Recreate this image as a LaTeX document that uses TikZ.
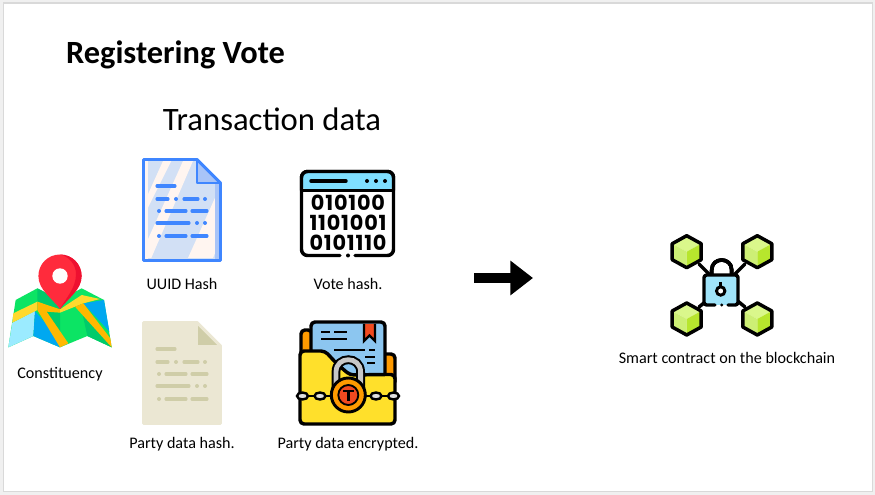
\documentclass[tikz,border=0pt]{standalone}
\usepackage{fontspec}
\usepackage{xcolor}
\usetikzlibrary{arrows.meta, positioning}
\setmainfont{Carlito}
\newfontfamily\bitsfont{Poppins}[LetterSpace=4]

\definecolor{slideedge}{HTML}{D9D9D9}
\definecolor{docblue}{HTML}{3F86FF}
\definecolor{docpale}{HTML}{D2E0F5}
\definecolor{docstreak}{HTML}{FFF5F0}
\definecolor{docfold}{HTML}{A8C4F8}
\definecolor{beigefill}{HTML}{EBE7D3}
\definecolor{beigefold}{HTML}{CFCDA8}
\definecolor{headerblue}{HTML}{7FDFFF}
\definecolor{paperblue}{HTML}{8CC6F0}
\definecolor{folderyellow}{HTML}{FFE02B}
\definecolor{tabchrome}{HTML}{FF9A00}
\definecolor{ribbonred}{HTML}{F04A20}
\definecolor{lockteal}{HTML}{A0E4FA}
\definecolor{cubetop}{HTML}{DAF78B}
\definecolor{cubeleft}{HTML}{CDEF75}
\definecolor{cuberight}{HTML}{B7E62D}
\definecolor{mapgreen}{HTML}{0CE464}
\definecolor{mapdark}{HTML}{00CB6A}
\definecolor{mapblue}{HTML}{00A8F0}
\definecolor{mapsky}{HTML}{9BEBFF}
\definecolor{mapgold}{HTML}{FFD92E}
\definecolor{maporange}{HTML}{FFB800}
\definecolor{pinred}{HTML}{FF2B3C}
\definecolor{pindark}{HTML}{EE1030}

\tikzset{
  caption/.style={inner sep=0pt, font=\fontsize{12.1pt}{14pt}\selectfont},
  heavy/.style={line width=2.6pt, draw=black, line join=round, line cap=round},
  bitrow/.style={inner sep=0pt, text height=11.4pt, text depth=0pt, font=\bitsfont\bfseries\fontsize{15.6pt}{16pt}\selectfont},
}

% document sheet: y shift, stroke, fill, streak, fold, text lines, right strip
\newcommand{\docicon}[7]{
  \begin{scope}[shift={(0,#1)}]
    \fill[#3] (143.5,159.5) -- (197,159.5) -- (220.5,183) -- (220.5,260.5) -- (143.5,260.5) -- cycle;
    \fill[#4] (144,160) rectangle (148,260);
    \fill[#4] (163,161) -- (171.3,161) -- (147.3,209) -- (147.3,195.7) -- cycle;
    \fill[#4] (183,161) -- (193,161) -- (151.3,258) -- (147.3,258) -- (147.3,240.7) -- cycle;
    \fill[#4] (188,258) -- (213,258) -- (219.7,242.3) -- (219.7,187.3) -- cycle;
    \fill[#7] (214.5,183) -- (220.5,183) -- (220.5,260.5) -- (214.5,260.5) -- cycle;
    \fill[#5] (197,159.5) -- (220.5,183) -- (197,183) -- cycle;
    \draw[#2, line width=2.2pt, line join=round] (143.5,159.5) -- (197,159.5) -- (220.5,183) -- (220.5,260.5) -- (143.5,260.5) -- cycle;
    \draw[#2, line width=2.2pt, line join=round] (197,159.5) -- (197,183) -- (220.5,183);
    \foreach \xa/\xb/\ya in {157/175/186, 157/168/199, 184/198/199, 166/186/211, 192/207/211, 157/189/223, 166/186/236, 192/207/236}
      \draw[#6, line width=2.3pt, line cap=round] (\xa,\ya) -- (\xb,\ya);
    \foreach \xa/\ya in {176/199, 205/199, 159/211, 197/223, 205/223, 159/236}
      \fill[#6] (\xa,\ya) circle[radius=2];
  \end{scope}
}

% one block of the network
\newcommand{\cubeicon}[2]{
  \begin{scope}[shift={(#1,#2)}]
    \fill[cubetop] (0,-16) -- (14.5,-8) -- (0,0) -- (-14.5,-8) -- cycle;
    \fill[cubeleft] (-14.5,-8) -- (0,0) -- (0,16) -- (-14.5,8) -- cycle;
    \fill[cuberight] (14.5,-8) -- (0,0) -- (0,16) -- (14.5,8) -- cycle;
    \draw[heavy] (0,-16) -- (14.5,-8) -- (14.5,8) -- (0,16) -- (-14.5,8) -- (-14.5,-8) -- cycle;
  \end{scope}
}

\begin{document}
\begin{tikzpicture}[x=0.75pt, y=-0.75pt]
  \useasboundingbox (0,0) rectangle (875,495);
  \fill[black!6] (0,0) rectangle (875,495);
  \draw[slideedge, fill=white, line width=0.8pt] (3.5,3) rectangle (872.5,491.5);

  % Headings
  \node[inner sep=0pt, font=\bfseries\fontsize{24.3pt}{26pt}\selectfont] (title) at (175.5,55) {Registering Vote};
  \node[inner sep=0pt, font=\fontsize{24.5pt}{26pt}\selectfont] (txdata) at (272,119) {Transaction data};

  % Hash sheets
  \docicon{0}{docblue}{docpale}{docstreak}{docfold}{docblue}{docfold}
  \docicon{163}{beigefill}{beigefill}{beigefill}{beigefold}{beigefold}{beigefill}
  \node[caption] (uuidlabel) at (182,284) {UUID Hash};
  \node[caption] (partyhashlabel) at (182,444) {Party data hash.};

  % Binary window
  \draw[heavy, fill=white, rounded corners=4.5pt] (340,255.5) -- (301.5,255.5) -- (301.5,171.5) -- (393.5,171.5) -- (393.5,255.5) -- (355,255.5);
  \fill[headerblue, rounded corners=4pt] (302,172) rectangle (393,190);
  \draw[heavy] (301.5,190.5) -- (393.5,190.5);
  \draw[heavy, rounded corners=4.5pt] (301.5,190) -- (301.5,171.5) -- (393.5,171.5) -- (393.5,190);
  \draw[heavy] (311,181) -- (346,181);
  \foreach \xa in {367,376,385}
    \fill (\xa,181) circle[radius=2];
  \fill (348,255.5) circle[radius=2];
  \node[bitrow] (bitsa) at (348,203) {010100};
  \node[bitrow] (bitsb) at (348,223) {1101001};
  \node[bitrow] (bitsc) at (348,243) {0101110};
  \node[caption] (votelabel) at (348,284) {Vote hash.};

  % Locked folder
  \draw[heavy, fill=tabchrome, rounded corners=3pt] (301,365) -- (301,330) -- (312,330) -- (312,365);
  \draw[heavy, fill=tabchrome, rounded corners=3pt] (385,354) -- (395,354) -- (395,385) -- (385,385);
  \draw[heavy, fill=paperblue, rounded corners=3pt] (311,375) -- (311,322) -- (385,322) -- (385,385) -- (340,385) -- cycle;
  \fill[ribbonred] (364,324) -- (375,324) -- (375,341) -- (369.5,335.5) -- (364,341) -- cycle;
  \draw[line width=1.8pt] (364,324) -- (364,341) -- (369.5,335.5) -- (375,341) -- (375,324);
  \foreach \xa/\xb/\ya in {321/330/332, 334/347/332, 321/347/339, 334/365/350, 369/375/350, 365/375/357, 367/375/363}
    \draw[line width=1.6pt] (\xa,\ya) -- (\xb,\ya);
  \draw[heavy, fill=folderyellow, rounded corners=3pt] (300,351) -- (325,351) -- (337,364) -- (350,375) -- (385,374.5) -- (395,374.5) -- (395,424) -- (300,424) -- cycle;
  \draw[line width=1.8pt] (301,396) -- (394,396);
  \foreach \xa in {302.5,320,376,393.5}
    \draw[fill=black!12, line width=1.8pt] (\xa,396) circle[x radius=5.5, y radius=3.5];
  \draw[line width=6.6pt] (336,388) -- (336,372) .. controls (336,355.6) and (360.6,355.6) .. (360.6,372) -- (360.6,388);
  \draw[black!22, line width=3.6pt] (336,388) -- (336,372) .. controls (336,355.6) and (360.6,355.6) .. (360.6,372) -- (360.6,388);
  \draw[fill=tabchrome, line width=2.2pt] (348.3,395) circle[radius=17];
  \draw[fill=ribbonred, line width=1.4pt] (348.3,395) circle[radius=10];
  \draw[line width=1.8pt] (343,391) -- (353.5,391);
  \draw[line width=1.8pt] (348.3,391) -- (348.3,401);
  \node[caption] (partyenclabel) at (348,444) {Party data encrypted.};

  % Map and pin
  \begin{scope}[shift={(0,250)}, x=0.25pt, y=-0.25pt]
    \fill[mapgreen] (47,150) -- (112,115) -- (180,150) -- (245,115) -- (312,150) -- (335,292) -- (262,258) -- (180,292) -- (100,258) -- (25,292) -- cycle;
    \fill[mapsky] (37,218) -- (105,183) -- (100,258) -- (25,292) -- cycle;
    \fill[mapblue] (105,183) -- (180,270) -- (180,292) -- (100,258) -- cycle;
    \fill[mapdark] (112,115) -- (180,150) -- (180,178) -- (112,155) -- cycle;
    \fill[mapdark] (140,185) -- (180,188) -- (180,250) -- cycle;
    \fill[mapblue] (250,160) -- (312,150) -- (328,245) -- cycle;
    \fill[mapdark] (245,180) -- (325,262) -- (335,292) -- (262,258) -- cycle;
    \fill[mapgold] (40,190) -- (112,155) -- (112,180) -- (37,218) -- cycle;
    \fill[maporange] (112,155) -- (180,178) -- (180,188) -- (140,185) -- (205,280) -- (180,292) -- (112,180) -- cycle;
    \fill[mapgold] (180,178) -- (245,135) -- (300,147) -- (250,160) -- (225,170) -- (180,188) -- cycle;
    \fill[maporange] (225,170) -- (250,160) -- (331,265) -- (335,292) -- cycle;
  \end{scope}
  \fill[pinred] (60,309) .. controls (52,298) and (38.4,290) .. (38.4,276) .. controls (38.4,264) and (48,254.5) .. (60,254.5) .. controls (72,254.5) and (81.6,264) .. (81.6,276) .. controls (81.6,290) and (68,298) .. (60,309) -- cycle;
  \fill[pindark] (60,254.5) .. controls (72,254.5) and (81.6,264) .. (81.6,276) .. controls (81.6,290) and (68,298) .. (60,309) .. controls (66,298) and (76,288) .. (76,274) .. controls (76,264) and (68,256) .. (60,254.5) -- cycle;
  \fill[white] (60,276) circle[radius=7.7];
  \node[caption] (constituencylabel) at (60,374) {Constituency};

  % Arrow to the contract
  \coordinate (flowstart) at (474,278);
  \coordinate (flowend) at (533,278);
  \draw[line width=8pt, -{Triangle[length=17pt, width=25pt]}] (flowstart) -- (flowend);

  % Blockchain lock
  \foreach \xa/\ya/\xb/\yb in {699/264/710/275, 745/264/734/275, 699/307/710/298, 745/307/734/298}
    \draw[heavy] (\xa,\ya) -- (\xb,\yb);
  \foreach \cx/\cy in {686.7/251.7, 757.3/251.7, 686.7/319, 757.3/319}
    \cubeicon{\cx}{\cy}
  \draw[heavy] (711.7,275) -- (711.7,270) .. controls (711.7,256.7) and (731.7,256.7) .. (731.7,270) -- (731.7,275);
  \fill[lockteal] (704,275) rectangle (738,305);
  \draw[heavy, rounded corners=2pt] (715,305) -- (704,305) -- (704,275) -- (738,275) -- (738,305) -- (728,305);
  \fill (721.7,305) circle[radius=1.7];
  \draw[line width=2.2pt, fill=white] (720.7,291) circle[radius=4.2];
  \draw[line width=2.2pt] (720.7,282) -- (720.7,286);
  \node[caption] (contractlabel) at (727,358) {Smart contract on the blockchain};
\end{tikzpicture}
\end{document}
